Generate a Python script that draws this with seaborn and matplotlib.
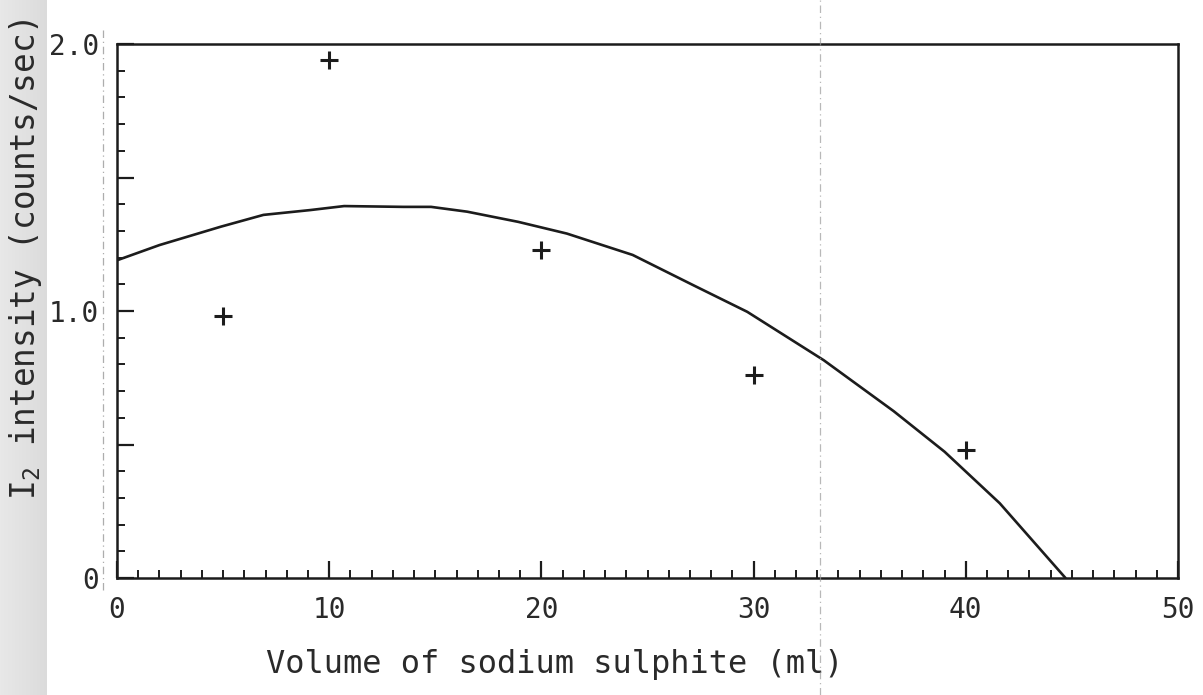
import matplotlib
matplotlib.use("Agg")
import matplotlib.pyplot as plt
import seaborn as sns
import numpy as np
import pandas as pd
from matplotlib.ticker import FixedLocator, FixedFormatter, MultipleLocator
from matplotlib.lines import Line2D

# Measured I2 intensity at each volume of sodium sulphite
volume_ml = [5, 10, 20, 30, 40]
intensity = [0.98, 1.94, 1.23, 0.76, 0.48]

# Hand-fitted curve through the measurements
fit_volume = [0, 2.0, 4.9, 6.9, 9.1, 10.7, 13.5, 14.8, 16.5, 18.9, 21.2,
              24.3, 27.2, 29.7, 33.3, 36.6, 39.0, 41.6, 44.7]
fit_intensity = [1.19, 1.247, 1.316, 1.36, 1.378, 1.393, 1.39, 1.39, 1.372,
                 1.334, 1.29, 1.21, 1.095, 0.997, 0.816, 0.625, 0.473, 0.28,
                 0.0]

x_major = [0, 10, 20, 30, 40, 50]
x_labels = ["0", "10", "20", "30", "40", "50"]
y_major = [0, 0.5, 1.0, 1.5, 2.0]
y_labels = ["0", "", "1.0", "", "2.0"]

sns.set_theme(style="white")
plt.rcParams["font.family"] = ["DejaVu Sans Mono"]
plt.rcParams["mathtext.fontset"] = "custom"
plt.rcParams["mathtext.rm"] = "DejaVu Sans Mono"
plt.rcParams["mathtext.it"] = "DejaVu Sans Mono"

ink = "#1c1c1c"
text_ink = "#2a2a2a"

fig = plt.figure(figsize=(12.03, 6.95), dpi=100)
fig.patch.set_facecolor("white")

# shaded page edge along the left margin
W, H = 47, 695
grad = np.linspace(0.91, 0.86, W)
strip = np.tile(grad, (H, 1))
strip = np.dstack([strip, strip, strip])
fig.figimage(strip, xo=0, yo=0, origin="upper", zorder=-5)

ax = fig.add_axes([0.0973, 0.1683, 0.8819, 0.7684])
ax.set_facecolor("none")

fit_df = pd.DataFrame({"volume": fit_volume, "intensity": fit_intensity})
pts_df = pd.DataFrame({"volume": volume_ml, "intensity": intensity})

sns.lineplot(data=fit_df, x="volume", y="intensity", ax=ax, color=ink,
             linewidth=1.9, estimator=None, sort=True)
sns.scatterplot(data=pts_df, x="volume", y="intensity", ax=ax, marker="+",
                s=170, color=ink, linewidth=2.2, zorder=3)

ax.set_xlim(0, 50)
ax.set_ylim(0, 2.0)

ax.xaxis.set_major_locator(FixedLocator(x_major))
ax.xaxis.set_major_formatter(FixedFormatter(x_labels))
ax.xaxis.set_minor_locator(MultipleLocator(1))
ax.yaxis.set_major_locator(FixedLocator(y_major))
ax.yaxis.set_major_formatter(FixedFormatter(y_labels))
ax.yaxis.set_minor_locator(MultipleLocator(0.1))

ax.tick_params(which="both", direction="in", top=False, right=False,
               bottom=True, left=True, color=ink, labelcolor=text_ink,
               labelsize=20)
ax.tick_params(which="major", length=12, width=1.6)
ax.tick_params(which="minor", length=6, width=1.4)
ax.tick_params(axis="x", which="major", pad=13)
ax.tick_params(axis="y", which="major", pad=13)

for sp in ax.spines.values():
    sp.set_visible(True)
    sp.set_color(ink)
    sp.set_linewidth(1.8)

ax.set_xlabel("Volume of sodium sulphite (ml)", fontsize=23, color=text_ink)
ax.set_ylabel(r"I$_\mathrm{2}$ intensity (counts/sec)", fontsize=23.5,
              color=text_ink)
ax.xaxis.set_label_coords(0.413, -0.133)
ax.yaxis.set_label_coords(-0.069, 0.597)

# faint fold lines across the sheet
fig.add_artist(Line2D([820 / 1203, 820 / 1203], [0, 1], color="#9a9a9a",
                      linewidth=0.9, linestyle=(0, (6, 3, 1, 3)), alpha=0.7))
fig.add_artist(Line2D([103 / 1203, 103 / 1203], [1 - 590 / 695, 1 - 30 / 695],
                      color="#8a8a8a", linewidth=0.9,
                      linestyle=(0, (6, 3, 1, 3)), alpha=0.7))

fig.savefig("out.png", dpi=100)
